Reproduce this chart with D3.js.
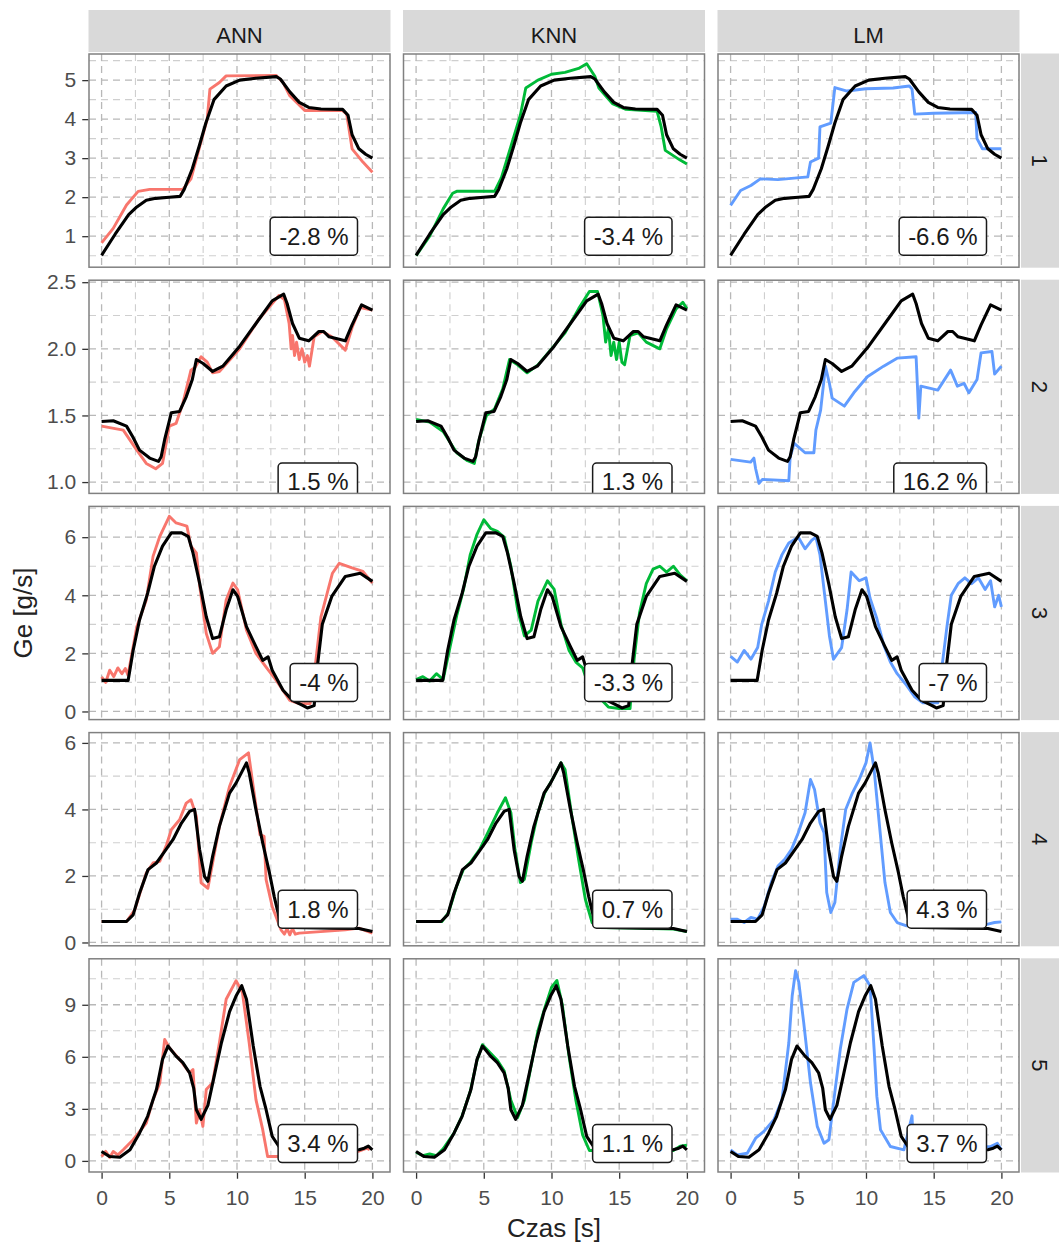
<!DOCTYPE html>
<html>
<head>
<meta charset="utf-8">
<script src="https://cdn.jsdelivr.net/npm/d3@7"></script>
<style>
    body { margin: 0; background: #fff; }
    text { font-family: "Liberation Sans", Arial, sans-serif; }
</style>
</head>
<body>
<svg id="chart" width="1059" height="1246"></svg>
<script>
'use strict';

const methods = ["ANN", "KNN", "LM"];
const cycles = ["1", "2", "3", "4", "5"];
const methodColors = ["#F8766D", "#00BA38", "#619CFF"];
const errorLabels = [
    ["-2.8 %", "-3.4 %", "-6.6 %"],
    ["1.5 %", "1.3 %", "16.2 %"],
    ["-4 %", "-3.3 %", "-7 %"],
    ["1.8 %", "0.7 %", "4.3 %"],
    ["3.4 %", "1.1 %", "3.7 %"]
];
const xTicks = [0, 5, 10, 15, 20];
const xMinor = [2.5, 7.5, 12.5, 17.5];
const yTicks = [[1, 2, 3, 4, 5], [1.0, 1.5, 2.0, 2.5], [0, 2, 4, 6], [0, 2, 4, 6], [0, 3, 6, 9]];
const yMinor = [[0.5, 1.5, 2.5, 3.5, 4.5, 5.5], [1.25, 1.75, 2.25], [1, 3, 5, 7], [1, 3, 5], [1.5, 4.5, 7.5, 10.5]];

// measured Ge [g/s] vs time [s], one per cycle (black)
const measured1 = [[0,0.51],[1,1.05],[2,1.55],[2.6,1.75],[3.3,1.92],[4,1.97],[5,2.0],[5.8,2.02],[6.1,2.2],[6.7,2.73],[7.2,3.3],[7.7,3.9],[8.3,4.5],[9.2,4.85],[10.2,5.0],[11.4,5.05],[12.9,5.09],[13.2,5.03],[13.9,4.7],[14.6,4.43],[15.3,4.3],[16.2,4.26],[17.8,4.25],[18.2,4.1],[18.5,3.6],[19,3.24],[19.5,3.1],[20,3.0]];
const measured2 = [[0,1.455],[0.86,1.46],[1.84,1.42],[2.3,1.34],[2.8,1.24],[3.55,1.18],[4.2,1.155],[4.4,1.19],[4.66,1.32],[5.15,1.52],[5.76,1.53],[6.25,1.64],[6.7,1.77],[7.0,1.92],[7.5,1.89],[8.2,1.83],[8.95,1.87],[10.2,2.02],[11.4,2.19],[12.6,2.36],[13.45,2.41],[13.7,2.34],[14.1,2.19],[14.6,2.08],[15.3,2.06],[16.05,2.13],[16.4,2.13],[16.8,2.09],[18.0,2.06],[18.5,2.18],[19.2,2.33],[20,2.29]];
const measured3 = [[0,1.07],[1.96,1.07],[2.33,2.1],[2.8,3.15],[3.4,4.07],[3.9,5.0],[4.5,5.69],[5.15,6.15],[5.9,6.15],[6.4,6.03],[6.75,5.46],[7.24,4.42],[7.73,3.26],[8.2,2.51],[8.7,2.57],[9.2,3.5],[9.7,4.19],[10.05,3.96],[10.7,2.92],[11.4,2.23],[11.9,1.76],[12.3,1.88],[12.6,1.42],[13.4,0.73],[14.1,0.38],[14.85,0.21],[15.2,0.12],[15.7,0.2],[15.95,1.6],[16.3,3.0],[17.0,3.96],[18.0,4.65],[19.1,4.76],[20,4.48]];
const measured4 = [[0,0.63],[1.84,0.63],[2.33,0.83],[2.8,1.48],[3.43,2.19],[4.05,2.39],[4.66,2.74],[5.27,3.09],[5.9,3.59],[6.5,3.94],[6.87,4.0],[7.24,2.79],[7.6,1.99],[7.85,1.84],[8.2,2.59],[8.7,3.49],[9.45,4.49],[9.93,4.79],[10.7,5.4],[10.9,5.1],[11.4,3.99],[11.9,2.99],[12.4,2.09],[12.75,1.38],[13.2,0.6],[14,0.45],[17,0.43],[19,0.42],[20,0.33]];
const measured5 = [[0,0.54],[0.6,0.25],[1.35,0.21],[2.1,0.64],[2.8,1.6],[3.4,2.57],[4.05,4.11],[4.5,5.85],[4.9,6.62],[5.5,6.04],[6.0,5.66],[6.5,5.08],[6.8,4.2],[7.0,2.95],[7.35,2.4],[7.85,3.2],[8.35,5.0],[8.85,6.81],[9.45,8.6],[9.93,9.5],[10.35,10.1],[10.7,9.32],[11.2,6.62],[11.7,4.3],[12.15,2.95],[12.6,1.41],[13.1,0.83],[14,0.6],[19,0.64],[19.4,0.73],[19.7,0.85],[20,0.64]];

// predicted Ge, one per method and cycle
const annPred1 = [[0,0.83],[0.86,1.2],[1.84,1.8],[2.7,2.15],[3.55,2.2],[6.0,2.2],[6.6,2.47],[7.2,3.24],[7.8,4.0],[8.0,4.77],[8.7,4.94],[9.2,5.11],[12.9,5.12],[13.4,4.94],[13.9,4.6],[15,4.22],[17.8,4.22],[18.1,4.13],[18.5,3.24],[19.3,2.9],[20,2.64]];
const annPred2 = [[0,1.42],[1.6,1.39],[2.6,1.24],[3.3,1.14],[4.0,1.1],[4.5,1.14],[5.0,1.42],[5.5,1.44],[6.0,1.59],[6.6,1.84],[6.9,1.86],[7.35,1.94],[7.8,1.9],[8.2,1.82],[8.7,1.83],[10.2,2.0],[11.6,2.22],[13.1,2.4],[13.5,2.37],[13.85,2.19],[14.0,2.0],[14.1,2.1],[14.25,1.95],[14.4,2.05],[14.6,1.92],[14.8,2.0],[15.0,1.9],[15.2,1.95],[15.35,1.87],[15.7,2.09],[16.3,2.13],[17.0,2.09],[18.0,1.99],[18.5,2.16],[19.1,2.31],[20,2.29]];
const annPred3 = [[0,1.19],[0.3,1.0],[0.6,1.42],[0.9,1.2],[1.2,1.5],[1.5,1.3],[1.75,1.48],[1.95,1.25],[2.6,2.92],[3.3,3.84],[3.8,5.34],[4.3,6.03],[5.0,6.72],[5.5,6.49],[6.3,6.38],[6.6,5.69],[7.0,5.46],[7.25,4.3],[7.73,2.69],[8.2,2.0],[8.7,2.23],[9.2,3.84],[9.7,4.42],[10.05,4.19],[10.7,2.8],[11.4,2.0],[12.15,1.53],[12.9,1.07],[13.9,0.38],[14.6,0.27],[15.4,0.27],[15.8,1.65],[16.2,3.26],[17.05,4.76],[17.55,5.1],[18.5,4.94],[19.3,4.82],[20,4.42]];
const annPred4 = [[0,0.63],[1.84,0.63],[2.45,0.98],[3.3,2.09],[3.8,2.39],[4.3,2.44],[4.8,2.94],[5.15,3.39],[5.76,3.69],[6.25,4.19],[6.6,4.29],[7.0,3.79],[7.35,1.79],[7.85,1.63],[8.7,3.49],[9.45,4.69],[10.2,5.5],[10.85,5.7],[11.3,4.39],[11.7,3.24],[12.0,3.19],[12.15,1.89],[12.6,1.08],[13.25,0.38],[13.5,0.25],[13.7,0.42],[13.9,0.23],[14.1,0.42],[14.3,0.25],[14.6,0.28],[18,0.38],[19,0.43],[20,0.28]];
const annPred5 = [[0,0.25],[0.3,0.55],[0.6,0.2],[0.86,0.54],[1.2,0.35],[1.6,0.64],[2.33,1.22],[3.3,2.18],[3.8,3.53],[4.3,4.5],[4.66,7.0],[5.0,6.52],[5.76,5.85],[6.5,5.08],[6.75,5.27],[7.0,2.18],[7.24,2.95],[7.48,1.99],[7.73,4.11],[8.2,4.5],[8.7,6.81],[9.2,9.32],[9.93,10.39],[10.4,9.71],[10.9,6.81],[11.4,3.53],[11.9,1.8],[12.26,0.25],[12.9,0.25],[18.9,0.54],[19.6,0.73],[19.8,0.64]];

const knnPred1 = [[0,0.5],[1,1.0],[2,1.7],[2.7,2.1],[3,2.15],[5.8,2.15],[6.3,2.5],[7,3.3],[7.7,4.1],[8.1,4.8],[9,5.0],[10,5.15],[11,5.2],[12,5.3],[12.6,5.42],[13.2,5.1],[13.5,4.8],[14.5,4.4],[15.5,4.25],[17.8,4.2],[18.1,3.8],[18.4,3.2],[19.5,2.95],[20,2.85]];
const knnPred2 = [[0,1.47],[1,1.45],[2,1.38],[3,1.22],[3.8,1.16],[4.3,1.14],[4.6,1.3],[5.2,1.5],[5.8,1.55],[6.4,1.7],[6.9,1.92],[7.5,1.88],[8.2,1.82],[9,1.88],[10,2.0],[11,2.12],[12,2.3],[12.8,2.43],[13.4,2.43],[13.8,2.25],[14.0,2.05],[14.2,2.15],[14.4,1.95],[14.6,2.05],[14.8,1.92],[15.0,2.05],[15.2,1.9],[15.4,1.88],[15.8,2.1],[16.4,2.12],[17,2.05],[18,2.0],[18.5,2.15],[19.2,2.3],[19.7,2.35],[20,2.3]];
const knnPred3 = [[0,1.1],[0.5,1.2],[1,1.05],[1.5,1.3],[2,1.1],[2.5,2.2],[3,3.3],[3.5,4.2],[4,5.4],[4.5,6.1],[5,6.6],[5.5,6.3],[6,6.2],[6.5,6.0],[7,5.0],[7.5,3.5],[8,2.6],[8.5,2.8],[9,3.8],[9.7,4.5],[10.2,4.2],[10.7,3.0],[11.3,2.1],[11.8,1.7],[12.3,1.5],[12.8,0.8],[13.5,0.5],[14.2,0.15],[15,0.1],[15.8,0.1],[16.1,1.8],[16.5,3.4],[17,4.4],[17.5,4.9],[18,5.0],[18.5,4.8],[19,5.0],[19.5,4.7],[20,4.5]];
const knnPred4 = [[0,0.63],[1.9,0.63],[2.4,0.9],[3,1.7],[3.5,2.2],[4,2.4],[4.7,2.8],[5.3,3.3],[6,3.9],[6.6,4.35],[7,3.9],[7.3,2.8],[7.7,1.8],[8,1.9],[8.5,3.0],[9,3.9],[9.5,4.5],[10.2,5.0],[10.7,5.4],[11.0,5.2],[11.5,3.8],[12,2.5],[12.5,1.3],[13,0.6],[13.5,0.45],[16,0.43],[19,0.4],[20,0.33]];
const knnPred5 = [[0,0.5],[0.5,0.3],[1,0.4],[1.5,0.3],[2,0.7],[2.8,1.6],[3.4,2.6],[4,4.0],[4.5,5.8],[4.9,6.7],[5.5,6.2],[6,5.8],[6.5,5.2],[7,3.5],[7.5,2.5],[8,3.5],[8.5,5.5],[9,7.5],[9.5,8.8],[10,10.0],[10.4,10.4],[10.8,9.0],[11.3,6.0],[11.8,3.5],[12.3,1.5],[12.8,0.6],[19,0.6],[19.5,0.85],[20,0.9]];

const lmPred1 = [[0,1.79],[0.74,2.17],[1.5,2.3],[2.2,2.47],[3.5,2.45],[5.7,2.52],[5.9,2.9],[6.5,3.0],[6.6,3.8],[7.4,3.9],[7.7,4.81],[8.6,4.72],[10,4.78],[12,4.8],[13.2,4.85],[13.4,4.77],[13.6,4.13],[15,4.15],[18.1,4.17],[18.2,3.5],[18.6,3.24],[20,3.24]];
const lmPred2 = [[0,1.17],[1.48,1.15],[1.72,1.18],[1.85,1.1],[2.1,0.99],[2.35,1.02],[4.3,1.01],[4.4,1.19],[4.7,1.29],[5.5,1.22],[6.15,1.22],[6.3,1.39],[6.65,1.54],[6.9,1.77],[7.0,1.87],[7.3,1.74],[7.5,1.63],[8.4,1.57],[9.1,1.67],[10.1,1.79],[11.3,1.87],[12.3,1.93],[13.7,1.94],[13.8,1.72],[13.9,1.48],[14.05,1.72],[15.3,1.69],[16.25,1.84],[16.75,1.72],[17.25,1.74],[17.6,1.67],[18.2,1.77],[18.5,1.97],[19.3,1.98],[19.5,1.81],[20,1.87]];
const lmPred3 = [[0,1.9],[0.5,1.7],[1,2.1],[1.5,1.8],[2,2.2],[2.3,3.0],[2.8,3.8],[3.3,4.8],[3.8,5.4],[4.3,5.8],[5,6.0],[5.5,5.6],[6,5.9],[6.3,6.0],[6.6,5.4],[7,3.8],[7.3,2.6],[7.6,1.8],[8.2,2.2],[8.6,3.5],[8.9,4.8],[9.5,4.5],[10,4.6],[10.3,3.9],[10.8,3.2],[11.3,2.3],[11.8,1.7],[12.3,1.3],[13,0.9],[13.6,0.5],[14.2,0.3],[15.3,0.3],[15.6,1.5],[16,3.0],[16.3,4.0],[16.8,4.4],[17.3,4.6],[17.8,4.4],[18.3,4.6],[18.8,4.2],[19.2,4.5],[19.5,3.6],[19.8,4.0],[20,3.6]];
const lmPred4 = [[0,0.7],[0.5,0.7],[1,0.6],[1.5,0.75],[2,0.7],[2.5,1.1],[3,1.8],[3.5,2.3],[4,2.5],[4.5,2.8],[5,3.3],[5.5,3.9],[5.9,4.9],[6.2,4.6],[6.6,3.6],[6.9,3.3],[7.1,1.5],[7.4,0.9],[7.7,1.2],[8.1,2.8],[8.5,4.0],[9,4.5],[9.5,4.9],[10,5.4],[10.3,6.0],[10.6,5.2],[11,3.5],[11.4,1.8],[11.8,0.9],[12.3,0.6],[13,0.5],[19,0.55],[19.5,0.6],[20,0.62]];
const lmPred5 = [[0,0.64],[0.5,0.35],[1.23,0.44],[1.85,1.31],[2.46,1.7],[3.2,2.37],[3.8,3.53],[4.3,6.81],[4.55,9.52],[4.8,10.96],[5.04,10.29],[5.4,7.97],[5.9,4.5],[6.4,1.99],[6.9,1.02],[7.26,1.22],[7.63,3.53],[8.1,6.43],[8.6,8.75],[9.1,10.29],[9.84,10.68],[10.3,10.1],[10.6,6.43],[10.8,3.73],[11.07,1.8],[11.8,0.83],[12.8,0.64],[13.4,2.6],[13.5,0.64],[19.2,0.83],[19.7,1.02],[20,0.64]];

const measured = [measured1, measured2, measured3, measured4, measured5];
const predicted = [
    [annPred1, annPred2, annPred3, annPred4, annPred5],
    [knnPred1, knnPred2, knnPred3, knnPred4, knnPred5],
    [lmPred1, lmPred2, lmPred3, lmPred4, lmPred5]
];

function getChartConfig() {
    let margin = { top: 54, left: 89 },
        panelW = 301,
        panelH = 213.2,
        gapX = 13.5,
        gapY = 13;
    let svg = d3.select("#chart");
    return { svg, margin, panelW, panelH, gapX, gapY };
}

function panelOrigin(config, r, c) {
    let { margin, panelW, panelH, gapX, gapY } = config;
    return [margin.left + c * (panelW + gapX), margin.top + r * (panelH + gapY)];
}

function getScales(config) {
    let { panelW, panelH } = config;
    let xScale = d3.scaleLinear().domain([-0.93, 21.3]).range([0, panelW]);
    let yDomains = [[0.205, 5.67], [0.915, 2.515], [-0.28, 7.06], [-0.1, 6.31], [-0.64, 11.65]];
    let yScales = yDomains.map(dom => d3.scaleLinear().domain(dom).range([panelH, 0]));
    return { xScale, yScales };
}

function drawStrips(config) {
    let { svg, panelW, panelH } = config;

    methods.forEach((m, c) => {
        let [x0] = panelOrigin(config, 0, c);
        svg.append("rect")
            .attr("x", x0 - 0.5).attr("y", 10)
            .attr("width", panelW + 1).attr("height", 42)
            .attr("fill", "#d9d9d9");
        svg.append("text")
            .attr("x", x0 + panelW / 2).attr("y", 42.5)
            .attr("text-anchor", "middle")
            .style("font-size", "22px")
            .style("fill", "#1a1a1a")
            .text(m);
    });

    cycles.forEach((cy, r) => {
        let [, y0] = panelOrigin(config, r, 0);
        svg.append("rect")
            .attr("x", 1021).attr("y", y0 - 0.5)
            .attr("width", 44).attr("height", panelH + 1)
            .attr("fill", "#d9d9d9");
        svg.append("text")
            .attr("transform", "translate(1040," + (y0 + panelH / 2) + ") rotate(90)")
            .attr("text-anchor", "middle")
            .attr("dy", "0.35em")
            .style("font-size", "22px")
            .style("fill", "#1a1a1a")
            .text(cy);
    });
}

function drawPanel(config, scales, r, c) {
    let { svg, panelW, panelH } = config;
    let { xScale, yScales } = scales;
    let yScale = yScales[r];
    let [x0, y0] = panelOrigin(config, r, c);
    let id = "clip-" + r + "-" + c;

    svg.append("clipPath").attr("id", id)
        .append("rect").attr("width", panelW).attr("height", panelH);

    let g = svg.append("g").attr("transform", "translate(" + x0 + "," + y0 + ")");
    g.append("rect").attr("width", panelW).attr("height", panelH).attr("fill", "#fff");

    // dashed grid, minor first
    let grid = g.append("g").style("stroke-dasharray", "7,5").attr("fill", "none");
    [[yMinor[r], "#cfcfcf", 1.1], [yTicks[r], "#b8b8b8", 1.3]].forEach(([vals, col, w]) => {
        grid.selectAll(null).data(vals).enter().append("line")
            .attr("x1", 0).attr("x2", panelW)
            .attr("y1", d => yScale(d)).attr("y2", d => yScale(d))
            .style("stroke", col).style("stroke-width", w);
    });
    [[xMinor, "#cfcfcf", 1.1], [xTicks, "#b8b8b8", 1.3]].forEach(([vals, col, w]) => {
        grid.selectAll(null).data(vals).enter().append("line")
            .attr("y1", 0).attr("y2", panelH)
            .attr("x1", d => xScale(d)).attr("x2", d => xScale(d))
            .style("stroke", col).style("stroke-width", w);
    });

    let line = d3.line()
        .x(d => xScale(d[0]))
        .y(d => yScale(d[1]));

    let plot = g.append("g").attr("clip-path", "url(#" + id + ")");

    plot.append("path")
        .datum(predicted[c][r])
        .attr("d", line)
        .attr("fill", "none")
        .style("stroke", methodColors[c])
        .style("stroke-width", 2.9)
        .style("stroke-linejoin", "round");

    plot.append("path")
        .datum(measured[r])
        .attr("d", line)
        .attr("fill", "none")
        .style("stroke", "#000")
        .style("stroke-width", 3.1)
        .style("stroke-linejoin", "round");

    // error label, right aligned at t = 18.9, Ge = 1
    let lab = plot.append("g");
    let txt = lab.append("text")
        .attr("x", xScale(18.9) - 9)
        .attr("y", yScale(1))
        .attr("dy", "0.35em")
        .attr("text-anchor", "end")
        .style("font-size", "24px")
        .style("fill", "#1a1a1a")
        .text(errorLabels[r][c]);
    let bb = txt.node().getBBox();
    lab.insert("rect", "text")
        .attr("x", bb.x - 9)
        .attr("y", yScale(1) - 19)
        .attr("width", bb.width + 18)
        .attr("height", 38)
        .attr("rx", 4)
        .attr("fill", "#fff")
        .style("stroke", "#1a1a1a")
        .style("stroke-width", 1.5);

    g.append("rect")
        .attr("width", panelW).attr("height", panelH)
        .attr("fill", "none")
        .style("stroke", "#808080")
        .style("stroke-width", 1.5);
}

function drawAxes(config, scales) {
    let { svg, panelW, panelH } = config;
    let { xScale, yScales } = scales;

    cycles.forEach((cy, r) => {
        let [x0, y0] = panelOrigin(config, r, 0);
        let fmt = r === 1 ? d3.format(".1f") : d3.format("d");
        let ax = svg.append("g")
            .attr("transform", "translate(" + (x0 - 0.75) + "," + y0 + ")")
            .call(d3.axisLeft(yScales[r]).tickValues(yTicks[r]).tickFormat(fmt).tickSize(6).tickPadding(6));
        styleAxis(ax);
    });

    methods.forEach((m, c) => {
        let [x0, y0] = panelOrigin(config, 4, c);
        let ax = svg.append("g")
            .attr("transform", "translate(" + x0 + "," + (y0 + panelH + 0.75) + ")")
            .call(d3.axisBottom(xScale).tickValues(xTicks).tickSize(6).tickPadding(11));
        styleAxis(ax);
    });

    svg.append("text")
        .attr("x", 554).attr("y", 1237)
        .attr("text-anchor", "middle")
        .style("font-size", "26px")
        .style("fill", "#222")
        .text("Czas [s]");

    svg.append("text")
        .attr("transform", "translate(32,613) rotate(-90)")
        .attr("text-anchor", "middle")
        .style("font-size", "26px")
        .style("fill", "#222")
        .text("Ge [g/s]");
}

function styleAxis(ax) {
    ax.select(".domain").remove();
    ax.selectAll(".tick line").style("stroke", "#333").style("stroke-width", 1.3);
    ax.selectAll(".tick text")
        .style("font-size", "21px")
        .style("font-family", "'Liberation Sans', Arial, sans-serif")
        .style("fill", "#4d4d4d");
}

function drawChart() {
    let config = getChartConfig();
    let scales = getScales(config);
    drawStrips(config);
    cycles.forEach((cy, r) => {
        methods.forEach((m, c) => drawPanel(config, scales, r, c));
    });
    drawAxes(config, scales);
}

drawChart();
</script>
</body>
</html>
